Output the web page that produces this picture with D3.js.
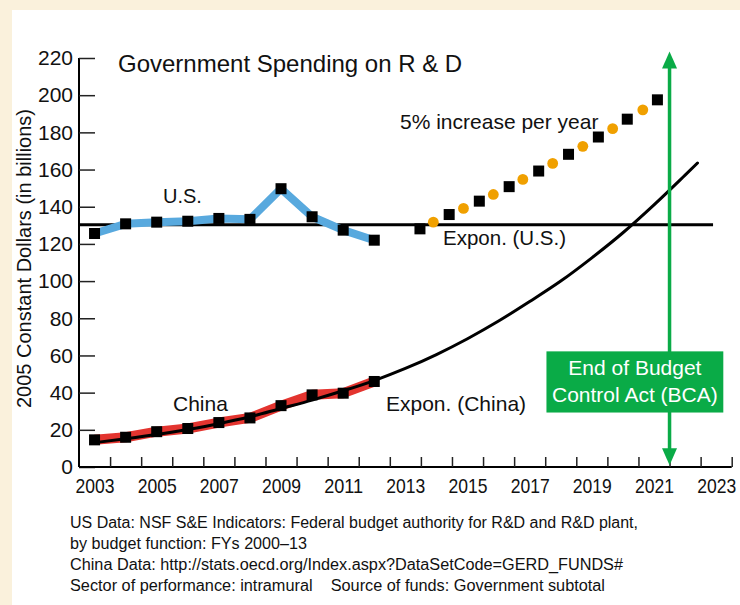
<!DOCTYPE html>
<html>
<head>
<meta charset="utf-8">
<script src="https://cdn.jsdelivr.net/npm/d3@7"></script>
<style>
  html, body { margin: 0; padding: 0; background: #faf1dc; }
  svg { display: block; }
  text { font-family: "Liberation Sans", Arial, Helvetica, sans-serif; fill: #111; }
</style>
</head>
<body>
<svg id="chart" width="740" height="605"></svg>
<script>
// ---------- data ----------
const years = [2003, 2004, 2005, 2006, 2007, 2008, 2009, 2010, 2011, 2012];
const usValues = [125.6, 130.8, 131.7, 132.2, 133.7, 133.2, 149.7, 134.6, 127.4, 122.0];
const chinaValues = [14.6, 16.0, 19.0, 20.7, 23.9, 26.4, 33.0, 38.8, 39.7, 46.0];

const chinaTrendYears = [2003, 2004, 2005, 2006, 2007, 2008, 2009, 2010, 2011, 2012, 2013, 2014, 2015, 2016, 2017, 2018, 2019, 2020, 2021, 2022, 2022.4];
const chinaTrendValues = [13.1, 15.2, 17.5, 20.2, 23.3, 27.0, 31.5, 36.0, 41.0, 46.5, 53.0, 60.5, 69.0, 78.5, 89.0, 100.0, 112.5, 126.0, 141.0, 157.0, 163.5];

const usTrendYears = [2002.5, 2022.9];
const usTrendValues = [130.3, 130.3];

const projSquareYears = [2013.47, 2014.41, 2015.38, 2016.34, 2017.29, 2018.25, 2019.21, 2020.14, 2021.11];
const projSquareValues = [128.1, 135.8, 143.0, 150.8, 159.2, 168.2, 177.5, 187.1, 197.5];
const projDotYears = [2013.9, 2014.87, 2015.83, 2016.78, 2017.74, 2018.71, 2019.67, 2020.64];
const projDotValues = [131.7, 139.1, 146.6, 154.7, 163.3, 172.5, 182.0, 192.1];

const bcaYear = 2021.5;
const yTickValues = [0, 20, 40, 60, 80, 100, 120, 140, 160, 180, 200, 220];
const xLabelYears = [2003, 2005, 2007, 2009, 2011, 2013, 2015, 2017, 2019, 2021, 2023];
const xBoundaryYears = d3.range(2003.5, 2024, 1);

const title = "Government Spending on R & D";
const yTitle = "2005 Constant Dollars (in billions)";
const bcaLines = ["End of Budget", "Control Act (BCA)"];
const footerLines = [
  "US Data: NSF S&E Indicators: Federal budget authority for R&D and R&D plant,",
  "by budget function: FYs 2000\u201313",
  "China Data: http://stats.oecd.org/Index.aspx?DataSetCode=GERD_FUNDS#",
  "Sector of performance: intramural    Source of funds: Government subtotal"
];
const footerWidths = [568, 237, 553, 535];

// ---------- layout ----------
const svg = d3.select("#chart");
svg.append("rect").attr("x", 12).attr("y", 10).attr("width", 728).attr("height", 595).attr("fill", "#ffffff");

const x = d3.scaleLinear().domain([2002.5, 2023.5]).range([79, 731.7]);
const y = d3.scaleLinear().domain([0, 220]).range([467, 58]);

const C = {
  blue: "#58a9de", red: "#e3342f", orange: "#f0a000", green: "#0aab47", black: "#000"
};

// ---------- axes ----------
const yAxis = svg.append("g").attr("transform", `translate(${x(2002.5)},0)`)
  .call(d3.axisLeft(y).tickValues(yTickValues).tickSize(-16).tickPadding(6).tickFormat(d3.format("d")));
yAxis.select(".domain").attr("stroke", "#000").attr("stroke-width", 2).attr("d", `M0,${y(220)}V${y(0)}`);
yAxis.selectAll(".tick line").attr("stroke", "#222").attr("stroke-width", 1.5);
yAxis.selectAll(".tick text").attr("font-size", 21).attr("fill", "#111")
  .attr("font-family", '"Liberation Sans", Arial, sans-serif');

const xAxisTicks = svg.append("g").attr("transform", `translate(0,${y(0)})`)
  .call(d3.axisBottom(x).tickValues(xBoundaryYears).tickSize(-10).tickFormat(""));
xAxisTicks.select(".domain").attr("stroke", "#000").attr("stroke-width", 2).attr("d", `M${x(2002.5)},0H${x(2023.5)}`);
xAxisTicks.selectAll(".tick line").attr("stroke", "#222").attr("stroke-width", 1.5);

const xAxisLabels = svg.append("g").attr("transform", `translate(0,${y(0)})`)
  .call(d3.axisBottom(x).tickValues(xLabelYears).tickSize(0).tickPadding(11).tickFormat(d3.format("d")));
xAxisLabels.select(".domain").remove();
xAxisLabels.selectAll(".tick text").attr("font-size", 21).attr("fill", "#111")
  .attr("font-family", '"Liberation Sans", Arial, sans-serif')
  .attr("textLength", 39).attr("lengthAdjust", "spacingAndGlyphs");

// ---------- series ----------
const line = d3.line().x(d => x(d[0])).y(d => y(d[1]));
const smooth = d3.line().x(d => x(d[0])).y(d => y(d[1])).curve(d3.curveMonotoneX);

const chinaPts = years.map((yr, i) => [yr, chinaValues[i]]);
const usPts = years.map((yr, i) => [yr, usValues[i]]);
const chinaTrend = chinaTrendYears.map((yr, i) => [yr, chinaTrendValues[i]]);
const usTrend = usTrendYears.map((yr, i) => [yr, usTrendValues[i]]);

// China band + trend
svg.append("path").attr("d", line(chinaPts)).attr("fill", "none").attr("stroke", C.red).attr("stroke-width", 10).attr("stroke-linejoin", "round");
svg.append("path").attr("d", smooth(chinaTrend)).attr("fill", "none").attr("stroke", C.black).attr("stroke-width", 3).attr("stroke-linecap", "round");

// US trend + band
svg.append("path").attr("d", line(usTrend)).attr("fill", "none").attr("stroke", C.black).attr("stroke-width", 3);
svg.append("path").attr("d", line(usPts)).attr("fill", "none").attr("stroke", C.blue).attr("stroke-width", 8).attr("stroke-linejoin", "round");

const sq = 11;
function squares(pts) {
  svg.append("g").selectAll("rect").data(pts).join("rect")
    .attr("x", d => x(d[0]) - sq / 2).attr("y", d => y(d[1]) - sq / 2)
    .attr("width", sq).attr("height", sq).attr("fill", C.black);
}
squares(chinaPts);
squares(usPts);

// projection (5% per year)
svg.append("g").selectAll("circle").data(projDotYears.map((yr, i) => [yr, projDotValues[i]])).join("circle")
  .attr("cx", d => x(d[0])).attr("cy", d => y(d[1])).attr("r", 5.4).attr("fill", C.orange);
squares(projSquareYears.map((yr, i) => [yr, projSquareValues[i]]));

// ---------- BCA arrow ----------
const ax = x(bcaYear);
const topTip = y(223.5), botTip = y(1);
svg.append("line").attr("x1", ax).attr("x2", ax).attr("y1", topTip + 10).attr("y2", botTip - 10)
  .attr("stroke", C.green).attr("stroke-width", 3.5);
svg.append("path").attr("d", `M${ax},${topTip}L${ax - 7.5},${topTip + 17}L${ax + 7.5},${topTip + 17}Z`).attr("fill", C.green);
svg.append("path").attr("d", `M${ax},${botTip}L${ax - 7.5},${botTip - 17}L${ax + 7.5},${botTip - 17}Z`).attr("fill", C.green);

const boxX0 = x(2017.54), boxX1 = x(2023.23), boxY0 = y(62.2), boxY1 = y(29.3);
svg.append("rect").attr("x", boxX0).attr("y", boxY0).attr("width", boxX1 - boxX0).attr("height", boxY1 - boxY0).attr("fill", C.green);
svg.append("text").attr("x", (boxX0 + boxX1) / 2).attr("y", boxY0 + 24).attr("text-anchor", "middle")
  .attr("font-size", 21).style("fill", "#fff").text(bcaLines[0]);
svg.append("text").attr("x", (boxX0 + boxX1) / 2).attr("y", boxY0 + 51).attr("text-anchor", "middle")
  .attr("font-size", 21).style("fill", "#fff").text(bcaLines[1]);

// ---------- text ----------
svg.append("text").attr("x", 118).attr("y", 72).attr("font-size", 24).text(title);
svg.append("text").attr("transform", `translate(31,${258.5}) rotate(-90)`).attr("text-anchor", "middle")
  .attr("font-size", 20).text(yTitle);

svg.append("text").attr("x", 163).attr("y", 203).attr("font-size", 20).text("U.S.");
svg.append("text").attr("x", 173).attr("y", 411).attr("font-size", 21).text("China");
svg.append("text").attr("x", 443).attr("y", 245).attr("font-size", 20.5).text("Expon. (U.S.)");
svg.append("text").attr("x", 386).attr("y", 411).attr("font-size", 21).text("Expon. (China)");
svg.append("text").attr("x", 400).attr("y", 129).attr("font-size", 21).text("5% increase per year");

const footer = svg.append("g");
footer.selectAll("text").data(footerLines).join("text")
  .attr("x", 70).attr("y", (d, i) => 528 + i * 21).attr("font-size", 16)
  .attr("textLength", (d, i) => footerWidths[i]).attr("lengthAdjust", "spacingAndGlyphs")
  .style("white-space", "pre").attr("xml:space", "preserve").text(d => d);
</script>
</body>
</html>
